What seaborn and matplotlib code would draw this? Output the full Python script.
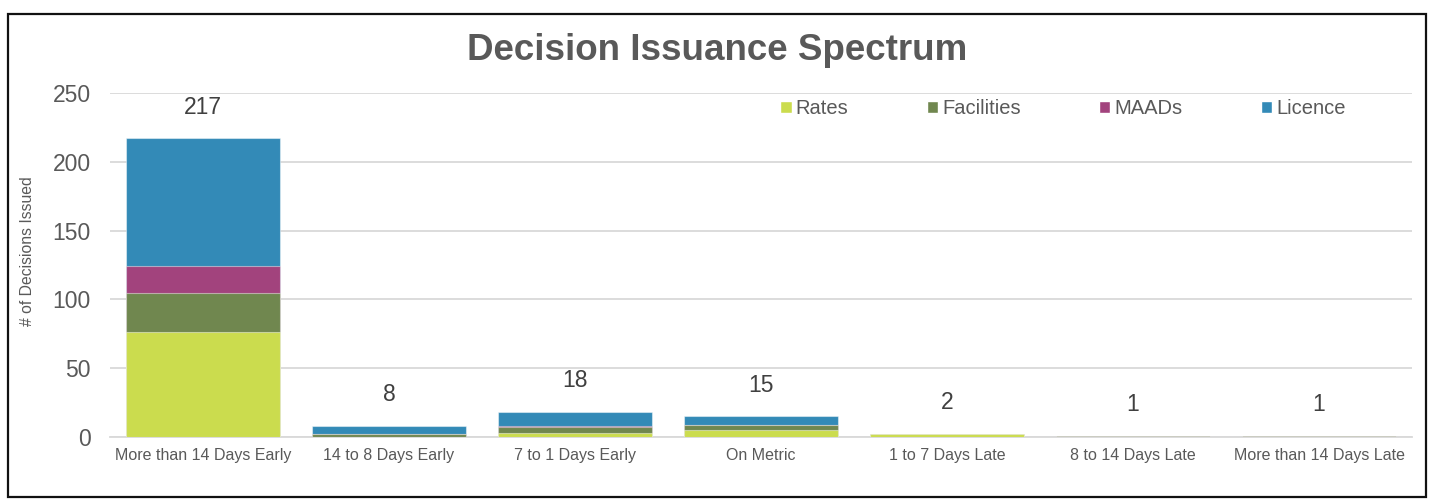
import numpy as np
import matplotlib
matplotlib.use("Agg")
import matplotlib.pyplot as plt
from matplotlib.patches import Patch, Rectangle
import seaborn as sns

categories = ["More than 14 Days Early", "14 to 8 Days Early", "7 to 1 Days Early",
              "On Metric", "1 to 7 Days Late", "8 to 14 Days Late", "More than 14 Days Late"]
rates = [76, 0, 3, 5, 2, 0, 0]
facilities = [29, 2, 4, 4, 0, 1, 1]
maads = [19, 0, 1, 0, 0, 0, 0]
licence = [93, 6, 10, 6, 0, 0, 0]

series = ["Rates", "Facilities", "MAADs", "Licence"]
colors = {"Rates": "#CBDC4E", "Facilities": "#70874F", "MAADs": "#A2437D", "Licence": "#338AB7"}

sns.set_style("white")
plt.rcParams["font.family"] = ["Liberation Sans", "DejaVu Sans"]

fig = plt.figure(figsize=(14.34, 5.03), dpi=100)
ax = fig.add_axes([110 / 1434, 1 - 437 / 503, 1302 / 1434, 344 / 503])

# stacked bars: draw cumulative totals, tallest first
stack = np.cumsum(np.array([rates, facilities, maads, licence]), axis=0)
for i in range(len(series) - 1, -1, -1):
    sns.barplot(x=categories, y=stack[i], color=colors[series[i]], width=0.83,
                saturation=1, edgecolor=(1, 1, 1, 0.45), linewidth=0.8, ax=ax, zorder=3)

totals = stack[-1]
for i, t in enumerate(totals):
    ax.annotate(str(t), (i, t), xytext=(0, 22.5), textcoords="offset points",
                ha="center", va="center", fontsize=16.5, color="#404040")

ax.set_ylim(0, 250)
ax.set_yticks(range(0, 251, 50))
ax.set_xlim(-0.5, len(categories) - 0.5)
ax.yaxis.grid(True, color="#d9d9d9", linewidth=1.3, zorder=0)
ax.set_axisbelow(True)
for s in ["top", "right", "left"]:
    ax.spines[s].set_visible(False)
ax.spines["bottom"].set_color("#d9d9d9")
ax.spines["bottom"].set_linewidth(1.3)
ax.tick_params(axis="y", labelsize=16.5, labelcolor="#595959", length=0, pad=14)
ax.tick_params(axis="x", labelsize=11.5, labelcolor="#595959", length=0, pad=8)
ax.set_ylabel("# of Decisions Issued", fontsize=11.3, color="#595959")
ax.yaxis.set_label_coords((35 - 110) / 1302, (437 - 251) / 344)

fig.text(0.5, 1 - 50 / 503, "Decision Issuance Spectrum", ha="center", va="center",
         fontsize=26.5, fontweight="bold", color="#595959")

handles = [Patch(facecolor=colors[s], label=s) for s in series]
fig.legend(handles=handles, loc="center", bbox_to_anchor=(1063 / 1434, 1 - 109 / 503),
           ncol=4, frameon=False, fontsize=14.5, labelcolor="#595959",
           handlelength=0.55, handleheight=0.55, handletextpad=0.2, columnspacing=3.9)

fig.add_artist(Rectangle((8 / 1434, 1 - 497 / 503), 1418 / 1434, 483 / 503,
                         transform=fig.transFigure, fill=False, edgecolor="#111111", linewidth=1.6))

fig.savefig("out.png", dpi=100)
